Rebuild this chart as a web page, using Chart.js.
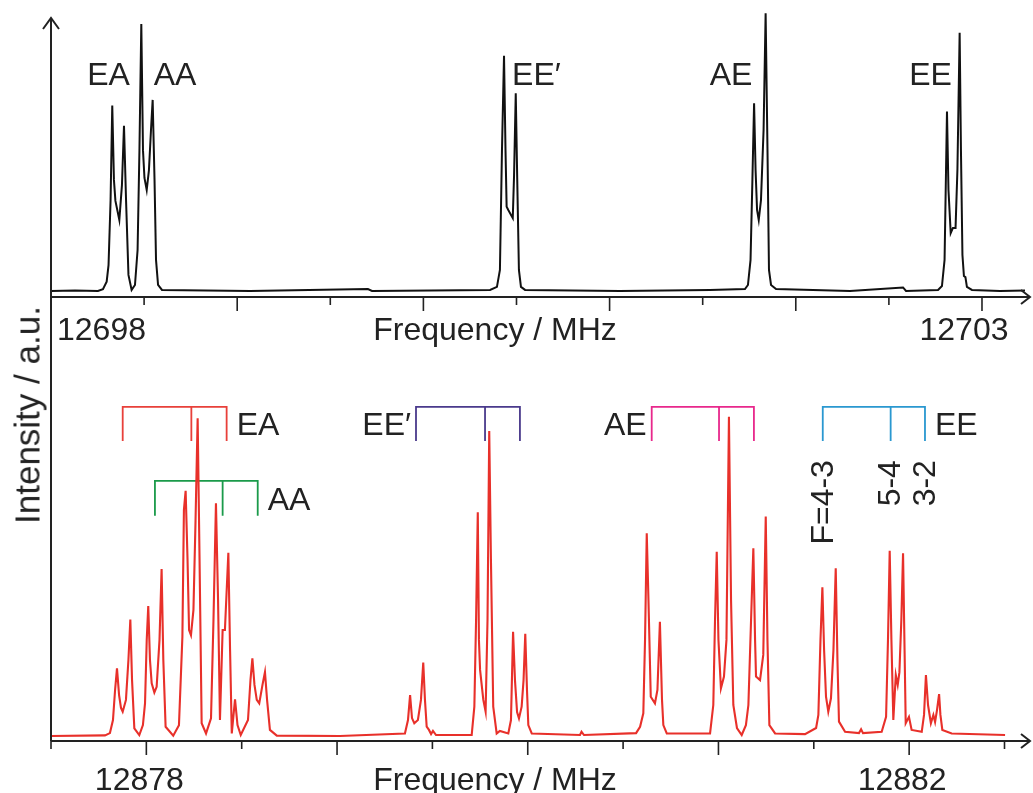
<!DOCTYPE html>
<html>
<head>
<meta charset="utf-8">
<title>Methyl torsion spectra</title>
<script src="https://cdn.jsdelivr.net/npm/chart.js@4.4.0/dist/chart.umd.min.js"></script>
<style>
  html, body { margin:0; padding:0; background:#fff; }
  #wrap { position:relative; width:1033px; height:793px; overflow:hidden; }
  #c { display:block; }
  #ylabel {
    position:absolute; left:26.5px; top:415px;
    transform:translate(-50%,-50%) rotate(-90deg);
    font:35px 'Liberation Sans', Arial, sans-serif; line-height:1;
    white-space:nowrap; color:#222;
  }
</style>
</head>
<body>
<div id="wrap">
  <canvas id="c" width="1033" height="793"></canvas>
  <div id="ylabel">Intensity / a.u.</div>
</div>
<script>
// upper trace (black), frequency in MHz / normalised intensity
const topFreq = [
  12698.000, 12698.129, 12698.252, 12698.279, 12698.299, 12698.309, 12698.320, 12698.329, 12698.338, 12698.346,
  12698.367, 12698.381, 12698.392, 12698.403, 12698.416, 12698.433, 12698.451, 12698.465, 12698.475, 12698.485,
  12698.494, 12698.502, 12698.514, 12698.526, 12698.537, 12698.546, 12698.556, 12698.564, 12698.575, 12698.596,
  12699.069, 12699.702, 12699.724, 12700.358, 12700.395, 12700.411, 12700.422, 12700.433, 12700.441, 12700.447,
  12700.456, 12700.480, 12700.487, 12700.496, 12700.504, 12700.513, 12700.524, 12700.546, 12701.056, 12701.539,
  12701.727, 12701.743, 12701.757, 12701.767, 12701.776, 12701.784, 12701.792, 12701.801, 12701.813, 12701.827,
  12701.838, 12701.848, 12701.856, 12701.867, 12701.894, 12702.291, 12702.576, 12702.592, 12702.764, 12702.785,
  12702.799, 12702.812, 12702.820, 12702.832, 12702.844, 12702.858, 12702.868, 12702.880, 12702.887, 12702.895,
  12702.903, 12702.911, 12702.919, 12702.946, 12703.097, 12703.231
];
const topInt = [
  0, 0.002, 0, 0.007, 0.034, 0.095, 0.333, 0.679, 0.407, 0.330,
  0.260, 0.388, 0.605, 0.333, 0.059, 0.004, 0.022, 0.150, 0.516, 0.978,
  0.516, 0.414, 0.370, 0.443, 0.590, 0.700, 0.407, 0.114, 0.022, 0.004,
  0, 0.007, 0, 0.004, 0.015, 0.077, 0.516, 0.862, 0.516, 0.309,
  0.297, 0.267, 0.425, 0.724, 0.407, 0.077, 0.015, 0.004, 0, 0.004,
  0.007, 0.022, 0.114, 0.407, 0.688, 0.443, 0.297, 0.260, 0.333, 0.590,
  1.017, 0.516, 0.077, 0.022, 0.007, 0, 0.013, 0, 0.004, 0.018,
  0.114, 0.657, 0.370, 0.212, 0.231, 0.231, 0.443, 0.946, 0.516, 0.132,
  0.055, 0.051, 0.015, 0.004, 0, 0.002
];

// lower trace (red, hyperfine resolved)
const botFreq = [
  12877.500, 12877.783, 12877.809, 12877.825, 12877.836, 12877.846, 12877.857, 12877.867, 12877.876, 12877.893,
  12877.906, 12877.916, 12877.925, 12877.937, 12877.963, 12877.982, 12877.993, 12878.002, 12878.010, 12878.019,
  12878.028, 12878.042, 12878.054, 12878.069, 12878.080, 12878.089, 12878.101, 12878.141, 12878.171, 12878.189,
  12878.197, 12878.206, 12878.216, 12878.224, 12878.234, 12878.247, 12878.258, 12878.269, 12878.279, 12878.290,
  12878.313, 12878.339, 12878.352, 12878.365, 12878.376, 12878.386, 12878.400, 12878.412, 12878.430, 12878.439,
  12878.448, 12878.465, 12878.478, 12878.495, 12878.533, 12878.546, 12878.556, 12878.567, 12878.579, 12878.592,
  12878.609, 12878.622, 12878.633, 12878.648, 12878.684, 12879.015, 12879.356, 12879.372, 12879.383, 12879.393,
  12879.405, 12879.424, 12879.440, 12879.452, 12879.461, 12879.470, 12879.482, 12879.493, 12879.503, 12879.519,
  12879.706, 12879.720, 12879.729, 12879.738, 12879.744, 12879.750, 12879.767, 12879.779, 12879.789, 12879.798,
  12879.807, 12879.819, 12879.837, 12879.854, 12879.898, 12879.912, 12879.923, 12879.933, 12879.944, 12879.954,
  12879.968, 12879.978, 12879.987, 12879.996, 12880.003, 12880.021, 12880.274, 12880.282, 12880.295, 12880.568,
  12880.589, 12880.606, 12880.615, 12880.624, 12880.633, 12880.645, 12880.667, 12880.680, 12880.693, 12880.704,
  12880.711, 12880.729, 12880.956, 12880.973, 12880.982, 12880.991, 12881.000, 12881.013, 12881.029, 12881.042,
  12881.055, 12881.066, 12881.078, 12881.097, 12881.122, 12881.144, 12881.157, 12881.171, 12881.183, 12881.192,
  12881.197, 12881.218, 12881.235, 12881.248, 12881.257, 12881.267, 12881.297, 12881.454, 12881.512, 12881.524,
  12881.535, 12881.545, 12881.554, 12881.564, 12881.576, 12881.590, 12881.603, 12881.615, 12881.624, 12881.632,
  12881.664, 12881.737, 12881.748, 12881.758, 12881.856, 12881.879, 12881.889, 12881.898, 12881.907, 12881.917,
  12881.930, 12881.940, 12881.949, 12881.959, 12881.968, 12881.976, 12881.982, 12881.999, 12882.013, 12882.066,
  12882.078, 12882.088, 12882.099, 12882.114, 12882.127, 12882.136, 12882.146, 12882.157, 12882.164, 12882.174,
  12882.223, 12882.503
];
const botInt = [
  0, 0.002, 0.009, 0.050, 0.144, 0.212, 0.128, 0.088, 0.076, 0.113,
  0.238, 0.365, 0.175, 0.024, 0.003, 0.034, 0.102, 0.301, 0.407, 0.238,
  0.165, 0.136, 0.154, 0.301, 0.523, 0.238, 0.029, 0.001, 0.034, 0.311,
  0.708, 0.768, 0.551, 0.332, 0.316, 0.395, 0.676, 0.995, 0.551, 0.040,
  0.008, 0.055, 0.363, 0.729, 0.426, 0.050, 0.332, 0.332, 0.574, 0.269,
  0.008, 0.115, 0.034, 0.003, 0.050, 0.175, 0.243, 0.160, 0.113, 0.102,
  0.160, 0.200, 0.113, 0.019, 0.001, 0, 0.008, 0.050, 0.128, 0.056,
  0.040, 0.050, 0.113, 0.230, 0.113, 0.029, 0.019, 0.006, 0.016, 0.003,
  0.003, 0.092, 0.363, 0.701, 0.301, 0.207, 0.113, 0.076, 0.363, 0.955,
  0.551, 0.092, 0.008, 0.016, 0.008, 0.050, 0.326, 0.175, 0.075, 0.055,
  0.092, 0.175, 0.320, 0.144, 0.034, 0.008, 0.003, 0.013, 0.003, 0.009,
  0.029, 0.071, 0.301, 0.635, 0.426, 0.123, 0.102, 0.144, 0.358, 0.113,
  0.034, 0.008, 0.008, 0.097, 0.363, 0.577, 0.301, 0.149, 0.186, 0.301,
  1.000, 0.426, 0.097, 0.025, 0.003, 0.034, 0.097, 0.363, 0.588, 0.301,
  0.186, 0.175, 0.254, 0.687, 0.301, 0.034, 0.008, 0.006, 0.025, 0.066,
  0.301, 0.466, 0.269, 0.123, 0.076, 0.118, 0.269, 0.525, 0.238, 0.045,
  0.013, 0.009, 0.021, 0.009, 0.013, 0.060, 0.301, 0.580, 0.301, 0.050,
  0.191, 0.160, 0.200, 0.363, 0.572, 0.269, 0.040, 0.060, 0.019, 0.013,
  0.066, 0.191, 0.097, 0.040, 0.066, 0.044, 0.081, 0.131, 0.066, 0.019,
  0.008, 0.003
];

// axis ticks
const topTicks = [12698, 12698.5, 12699, 12699.5, 12700, 12700.5, 12701, 12701.5, 12702, 12702.5, 12703];
const topTickLabels = [12698, 12703];
const botTicks = [12877.5, 12878, 12878.5, 12879, 12879.5, 12880, 12880.5, 12881, 12881.5, 12882, 12882.5];
const botTickLabels = [12878, 12882];

// species labels over the upper trace
const topNames = ['EA', 'AA', 'EE\u2032', 'AE', 'EE'];
const topNameFreq = [12698.309, 12698.666, 12700.607, 12701.652, 12702.724];
const topNameLevel = 0.755;

// hyperfine brackets over the lower trace
const bracketNames = ['EA', 'AA', 'EE\u2032', 'AE', 'EE'];
const bracketLeft = [12877.876, 12878.045, 12879.414, 12880.650, 12881.547];
const bracketMid = [12878.236, 12878.400, 12879.776, 12881.003, 12881.903];
const bracketRight = [12878.421, 12878.584, 12879.959, 12881.186, 12882.083];
const bracketTop = [1.031, 0.799, 1.031, 1.031, 1.031];
const bracketBottom = [0.924, 0.690, 0.924, 0.924, 0.924];
const hfsNames = ['F=4-3', '5-4', '3-2'];
const hfsFreq = [12881.547, 12881.903, 12882.083];
const hfsLevel = 0.864;

const FONT = "'Liberation Sans', Arial, sans-serif";
const INK = '#222';
const bracketColors = ['#e8403a', '#1a9a4a', '#4a3a8c', '#e8288c', '#2a98d0'];
const bracketSide = ['right', 'right', 'left', 'left', 'right'];

function toPoints(xs, ys){
  return xs.map((x, i) => ({x: x, y: ys[i]}));
}

function drawArrowAxis(ctx, x0, x1, y){
  ctx.beginPath();
  ctx.moveTo(x0, y); ctx.lineTo(x1, y);
  ctx.moveTo(x1 - 9, y - 7); ctx.lineTo(x1, y); ctx.lineTo(x1 - 9, y + 7);
  ctx.stroke();
}

const decor = {
  id: 'decor',
  // brackets sit behind the red trace
  beforeDatasetsDraw(chart){
    const {ctx, scales} = chart;
    const xb = scales.xBot, yb = scales.yBot;
    ctx.save();
    ctx.lineWidth = 1.8;
    ctx.font = '32px ' + FONT;
    ctx.textBaseline = 'alphabetic';
    bracketNames.forEach((n, i) => {
      const xl = xb.getPixelForValue(bracketLeft[i]);
      const xm = xb.getPixelForValue(bracketMid[i]);
      const xr = xb.getPixelForValue(bracketRight[i]);
      const y0 = yb.getPixelForValue(bracketTop[i]);
      const y1 = yb.getPixelForValue(bracketBottom[i]);
      ctx.strokeStyle = bracketColors[i];
      ctx.beginPath();
      ctx.moveTo(xl, y1); ctx.lineTo(xl, y0); ctx.lineTo(xr, y0); ctx.lineTo(xr, y1);
      ctx.moveTo(xm, y0); ctx.lineTo(xm, y1);
      ctx.stroke();
      ctx.fillStyle = INK;
      if(bracketSide[i] === 'right'){
        ctx.textAlign = 'left';
        ctx.fillText(n, xr + 10, y1 - 6);
      } else {
        ctx.textAlign = 'right';
        ctx.fillText(n, xl - 5, y1 - 6);
      }
    });
    ctx.restore();
  },
  afterDatasetsDraw(chart){
    const {ctx, chartArea: a, scales} = chart;
    const xt = scales.xTop, yt = scales.yTop, xb = scales.xBot, yb = scales.yBot;
    const topAxisY = Math.round(yt.getPixelForValue(0)) + 6;
    const botAxisY = a.bottom;

    ctx.save();
    ctx.strokeStyle = INK;
    ctx.fillStyle = INK;
    ctx.lineWidth = 2;

    // y axis with arrow
    ctx.beginPath();
    ctx.moveTo(a.left, a.top); ctx.lineTo(a.left, botAxisY);
    ctx.moveTo(a.left - 8, a.top + 11); ctx.lineTo(a.left, a.top); ctx.lineTo(a.left + 8, a.top + 11);
    ctx.stroke();

    // both frequency axes
    drawArrowAxis(ctx, a.left, a.right + 5, topAxisY);
    drawArrowAxis(ctx, a.left, a.right + 5, botAxisY);

    ctx.lineWidth = 1.6;
    ctx.beginPath();
    topTicks.forEach(v => {
      const px = xt.getPixelForValue(v);
      ctx.moveTo(px, topAxisY); ctx.lineTo(px, topAxisY + (Number.isInteger(v) ? 14 : 8));
    });
    botTicks.forEach(v => {
      const px = xb.getPixelForValue(v);
      ctx.moveTo(px, botAxisY); ctx.lineTo(px, botAxisY + (Number.isInteger(v) ? 14 : 8));
    });
    ctx.stroke();

    // tick labels + axis titles
    ctx.font = '32px ' + FONT;
    ctx.textBaseline = 'alphabetic';
    ctx.textAlign = 'left';
    ctx.fillText(String(topTickLabels[0]), xt.getPixelForValue(topTickLabels[0]) + 6, topAxisY + 43);
    ctx.textAlign = 'center';
    ctx.fillText(String(topTickLabels[1]), xt.getPixelForValue(topTickLabels[1]) - 18, topAxisY + 43);
    botTickLabels.forEach(v => ctx.fillText(String(v), xb.getPixelForValue(v) - 7, botAxisY + 49));
    ctx.fillText('Frequency / MHz', 495, topAxisY + 43);
    ctx.fillText('Frequency / MHz', 495, botAxisY + 49);

    // species names, upper trace
    topNames.forEach((n, i) => {
      ctx.fillText(n, xt.getPixelForValue(topNameFreq[i]), yt.getPixelForValue(topNameLevel));
    });

    // rotated F labels
    hfsNames.forEach((n, i) => {
      ctx.save();
      ctx.translate(xb.getPixelForValue(hfsFreq[i]), yb.getPixelForValue(hfsLevel));
      ctx.rotate(-Math.PI / 2);
      ctx.textAlign = 'right';
      ctx.textBaseline = 'middle';
      ctx.fillText(n, 0, 1);
      ctx.restore();
    });

    ctx.restore();
  }
};

new Chart(document.getElementById('c'), {
  type: 'line',
  data: {
    datasets: [
      {
        label: 'upper',
        data: toPoints(topFreq, topInt),
        xAxisID: 'xTop', yAxisID: 'yTop',
        borderColor: '#111', borderWidth: 2,
        pointRadius: 0, tension: 0, clip: false
      },
      {
        label: 'lower',
        data: toPoints(botFreq, botInt),
        xAxisID: 'xBot', yAxisID: 'yBot',
        borderColor: '#e8302a', borderWidth: 2.1,
        pointRadius: 0, tension: 0, clip: false
      }
    ]
  },
  options: {
    responsive: false,
    animation: false,
    devicePixelRatio: 1,
    layout: { padding: { left: 51, right: 8, top: 18, bottom: 52 } },
    plugins: { legend: { display: false }, tooltip: { enabled: false } },
    scales: {
      xTop: { type: 'linear', display: false, min: 12698, max: 12703.231 },
      yTop: { type: 'linear', display: false, min: -1.6484, max: 1.0 },
      xBot: { type: 'linear', display: false, min: 12877.5, max: 12882.6075 },
      yBot: { type: 'linear', display: false, min: -0.0157, max: 2.2486 }
    }
  },
  plugins: [decor]
});
</script>
</body>
</html>
